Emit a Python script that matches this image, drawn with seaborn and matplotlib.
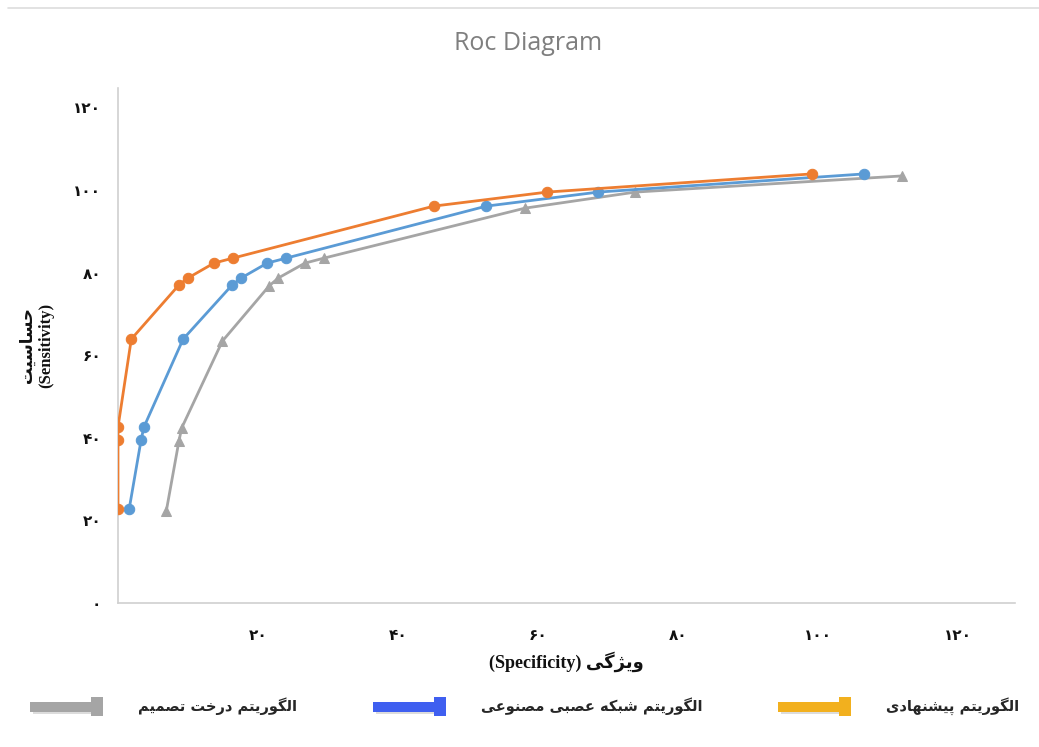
import matplotlib
matplotlib.use("Agg")
import matplotlib.pyplot as plt
import seaborn as sns
from matplotlib.legend_handler import HandlerBase
from matplotlib.patches import Rectangle, Patch
from matplotlib.lines import Line2D

# ---------------- data ----------------
proposed_x = [0, 0, 0, 1.9, 8.7, 10.0, 13.7, 16.4, 45.1, 61.3, 99.1]
proposed_y = [22.8, 39.5, 42.6, 63.9, 77.0, 78.7, 82.3, 83.5, 96.1, 99.5, 103.9]
ann_x = [1.6, 3.3, 3.7, 9.3, 16.3, 17.6, 21.3, 24.0, 52.6, 68.6, 106.6]
ann_y = [22.8, 39.5, 42.6, 63.9, 77.0, 78.7, 82.3, 83.5, 96.1, 99.5, 103.9]
dt_x = [6.9, 8.7, 9.1, 14.9, 21.6, 22.9, 26.7, 29.4, 58.1, 73.9, 111.9]
dt_y = [22.3, 39.2, 42.4, 63.4, 76.8, 78.7, 82.3, 83.5, 95.6, 99.5, 103.4]

x_ticks = [20, 40, 60, 80, 100, 120]
y_ticks = [0, 20, 40, 60, 80, 100, 120]

title = "Roc Diagram"
xlabel_fa = "ویژگی"
xlabel_en = "(Specificity)"
ylabel_fa = "حساسیت"
ylabel_en = "(Sensitivity)"
legend_labels = ["الگوریتم درخت تصمیم", "الگوریتم شبکه عصبی مصنوعی", "الگوریتم پیشنهادی"]

# ---------------- minimal Persian shaping ----------------
FORMS = {
    'ا': (0xFE8D, 0xFE8E),
    'ب': (0xFE8F, 0xFE90, 0xFE91, 0xFE92),
    'پ': (0xFB56, 0xFB57, 0xFB58, 0xFB59),
    'ت': (0xFE95, 0xFE96, 0xFE97, 0xFE98),
    'ح': (0xFEA1, 0xFEA2, 0xFEA3, 0xFEA4),
    'خ': (0xFEA5, 0xFEA6, 0xFEA7, 0xFEA8),
    'د': (0xFEA9, 0xFEAA),
    'ر': (0xFEAD, 0xFEAE),
    'ژ': (0xFB8A, 0xFB8B),
    'س': (0xFEB1, 0xFEB2, 0xFEB3, 0xFEB4),
    'ش': (0xFEB5, 0xFEB6, 0xFEB7, 0xFEB8),
    'ص': (0xFEB9, 0xFEBA, 0xFEBB, 0xFEBC),
    'ع': (0xFEC9, 0xFECA, 0xFECB, 0xFECC),
    'ک': (0xFB8E, 0xFB8F, 0xFB90, 0xFB91),
    'ك': (0xFB8E, 0xFB8F, 0xFB90, 0xFB91),
    'گ': (0xFB92, 0xFB93, 0xFB94, 0xFB95),
    'ل': (0xFEDD, 0xFEDE, 0xFEDF, 0xFEE0),
    'م': (0xFEE1, 0xFEE2, 0xFEE3, 0xFEE4),
    'ن': (0xFEE5, 0xFEE6, 0xFEE7, 0xFEE8),
    'ه': (0xFEE9, 0xFEEA, 0xFEEB, 0xFEEC),
    'و': (0xFEED, 0xFEEE),
    'ی': (0xFBFC, 0xFBFD, 0xFBFE, 0xFBFF),
    'ي': (0xFBFC, 0xFBFD, 0xFBFE, 0xFBFF),
}


def shape(s):
    out = []
    for i, c in enumerate(s):
        f = FORMS.get(c)
        if f is None:
            out.append(c)
            continue
        prev = s[i - 1] if i > 0 else ''
        nxt = s[i + 1] if i + 1 < len(s) else ''
        jp = prev in FORMS and len(FORMS[prev]) == 4
        jn = len(f) == 4 and nxt in FORMS
        if jp and jn:
            g = f[3]
        elif jp:
            g = f[1]
        elif jn:
            g = f[2]
        else:
            g = f[0]
        out.append(chr(g))
    return ''.join(reversed(out))


FA_DIGITS = str.maketrans("0123456789", "۰۱۲۳۴۵۶۷۸۹")


def fa_num(v):
    return str(v).translate(FA_DIGITS)


# ---------------- style ----------------
sns.set_theme(style="white")
plt.rcParams['font.family'] = ['DejaVu Sans']

C_ORANGE = "#ED7D31"
C_BLUE = "#5B9BD5"
C_GRAY = "#A5A5A5"
LEG_COLORS = ["#A5A5A5", "#3F5FF0", "#F2B01E"]

W, H = 1039, 747
fig = plt.figure(figsize=(W / 100, H / 100), dpi=100)
ax = fig.add_axes([118 / W, 1 - 603 / H, (1015 - 118) / W, (603 - 88) / H])

common = dict(estimator=None, sort=False, ax=ax, legend=False, linewidth=2.0, markersize=7.5)
sns.lineplot(x=dt_x, y=dt_y, color=C_GRAY, marker="^", markeredgecolor=C_GRAY, **common)
sns.lineplot(x=ann_x, y=ann_y, color=C_BLUE, marker="o", markeredgecolor=C_BLUE, **common)
sns.lineplot(x=proposed_x, y=proposed_y, color=C_ORANGE, marker="o", markeredgecolor=C_ORANGE, **common)

ax.set_xlim(0, 128.1)
ax.set_ylim(0, 124.7)
for sp in ["top", "right"]:
    ax.spines[sp].set_visible(False)
for sp in ["left", "bottom"]:
    ax.spines[sp].set_color("#D0D0D0")
    ax.spines[sp].set_linewidth(1.2)
ax.spines["left"].set_zorder(0)

ax.set_xticks(x_ticks)
ax.set_xticklabels([fa_num(v) for v in x_ticks])
ax.set_yticks(y_ticks)
ax.set_yticklabels([fa_num(v) for v in y_ticks])
ax.tick_params(axis="both", length=0, labelsize=11, colors="#111111")
ax.tick_params(axis="x", pad=18)
ax.tick_params(axis="y", pad=12)
for lab in ax.get_xticklabels() + ax.get_yticklabels():
    lab.set_fontweight("bold")

ax.set_xlabel(xlabel_en + " " + shape(xlabel_fa), fontsize=13, fontweight="bold",
              family=["Liberation Serif", "DejaVu Sans"], labelpad=6, color="#111111")
ax.set_ylabel(shape(ylabel_fa) + "\n" + ylabel_en, fontsize=12, fontweight="bold",
              family=["Liberation Serif", "DejaVu Sans"], labelpad=14, color="#111111",
              multialignment="center")

fig.text(0.508, 1 - 44 / H, title, ha="center", va="center", fontsize=18,
         color="#7F7F7F", family=["Open Sans", "DejaVu Sans"])

# top border line
fig.add_artist(Line2D([8 / W, 1.0], [1 - 8 / H, 1 - 8 / H], transform=fig.transFigure,
                      color="#DDDDDD", lw=1.2))


# ---------------- legend ----------------
class PipeHandler(HandlerBase):
    def create_artists(self, legend, orig_handle, xdescent, ydescent, width, height,
                       fontsize, trans):
        col = orig_handle.get_facecolor()
        x0, y0 = -xdescent, -ydescent
        arts = []
        arts.append(Rectangle((x0 + 2, y0 + height * 0.05 - 2), width * 0.86, height * 0.75,
                              facecolor="#BBBBBB", edgecolor="none", alpha=0.5, transform=trans))
        arts.append(Rectangle((x0, y0 + height * 0.05), width * 0.86, height * 0.75,
                              facecolor=col, edgecolor="none", transform=trans))
        arts.append(Rectangle((x0 + width * 0.84, y0 - height * 0.3), width * 0.16, height * 1.45,
                              facecolor=col, edgecolor="none", transform=trans))
        return arts


handles = [Patch(facecolor=c) for c in LEG_COLORS]
fig.legend(handles, [shape(t) for t in legend_labels], handler_map={Patch: PipeHandler()},
           loc="center", bbox_to_anchor=(0.505, 1 - 706 / H), ncol=3, frameon=False,
           handlelength=5.0, handleheight=1.0, handletextpad=2.4, columnspacing=5.2,
           prop={"weight": "bold", "size": 10.5})

fig.savefig("out.png", dpi=100)
